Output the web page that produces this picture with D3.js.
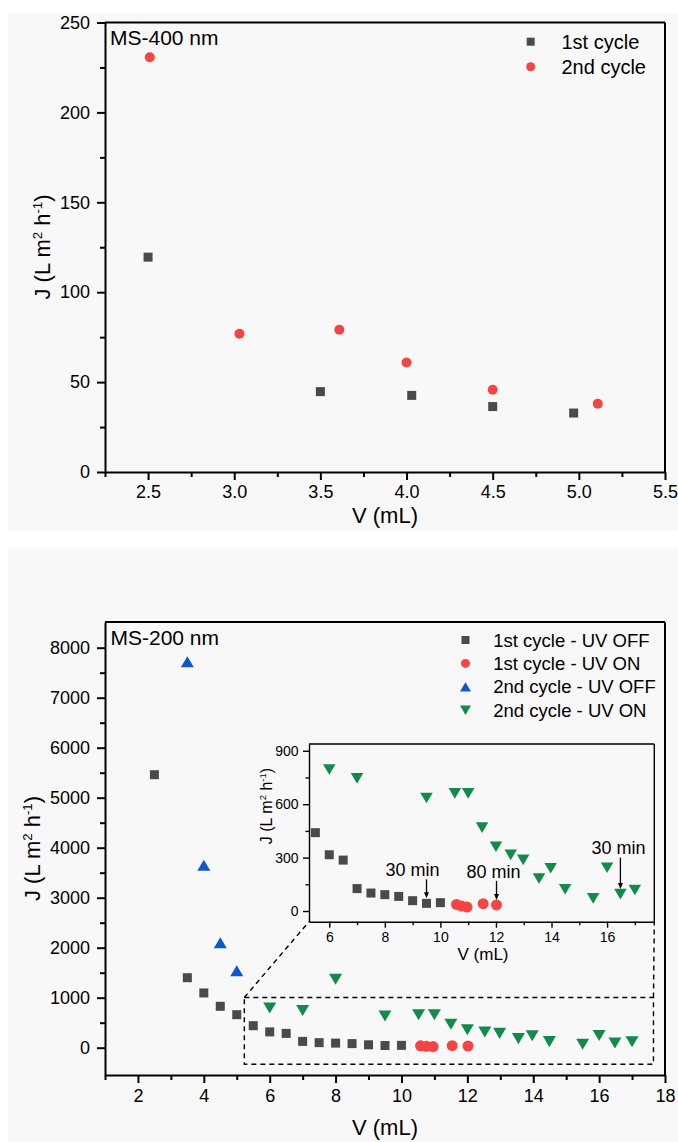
<!doctype html>
<html lang="en">
<head>
<meta charset="utf-8">
<style>
  body { margin: 0; background: #fff; }
  svg { display: block; font-family: "Liberation Sans", Arial, sans-serif; }
  .tick text { fill: #000; }
</style>
</head>
<body>
<script src="https://d3js.org/d3.v7.min.js"></script>
<script>
var width = 678, height = 1142;

// MS-400 nm
var v400c1 = [2.5, 3.5, 4.03, 4.5, 4.97];
var j400c1 = [119.5, 44.7, 42.6, 36.4, 32.8];
var v400c2 = [2.51, 3.03, 3.61, 4.0, 4.5, 5.11];
var j400c2 = [230.7, 76.9, 79.1, 60.9, 45.7, 38.0];

// MS-200 nm
var vOff1 = [2.5, 3.5, 4, 4.5, 5, 5.5, 6, 6.5, 7, 7.5, 8, 8.5, 9, 9.5, 10];
var jOff1 = [5460, 1400, 1095, 828, 660, 440, 316, 286, 126, 101, 92, 82, 58, 43, 47];
var vOn1 = [10.58, 10.76, 10.96, 11.54, 12.02];
var jOn1 = [37, 28, 22, 41, 34];
var vOff2 = [3.5, 4, 4.5, 5];
var jOff2 = [7720, 3650, 2100, 1540];
var vOn2 = [6, 7, 8, 9.5, 10.52, 11, 11.5, 12, 12.53, 12.98, 13.55, 13.97, 14.49, 15.5, 16, 16.48, 17];
var jOn2 = [795, 745, 1370, 635, 661, 661, 468, 361, 315, 287, 182, 240, 122, 71, 243, 95, 118];

var legend400 = ["1st cycle", "2nd cycle"];
var legend200 = ["1st cycle - UV OFF", "1st cycle - UV ON", "2nd cycle - UV OFF", "2nd cycle - UV ON"];

// inset annotations
var annV = [9.5, 12.02, 16.48];
var annJ = [43, 34, 95];
var annText = ["30 min", "80 min", "30 min"];

// zoomed region in main chart
var boxV = [5.23, 17.65];
var boxJ = [-330, 1005];

var cGray = "#4a4a4a", cRed = "#f54444", cBlue = "#0d56cc", cGreen = "#128a4a";

var svg = d3.select("body").append("svg")
  .attr("width", width)
  .attr("height", height);

svg.append("rect").attr("x", 8).attr("y", 14).attr("width", 670).attr("height", 516).attr("fill", "#f8f8f8");
svg.append("rect").attr("x", 8).attr("y", 548).attr("width", 670).attr("height", 594).attr("fill", "#f8f8f8");

function tri(cx, cy, w, h, down) {
  var p = d3.path();
  if (down) {
    p.moveTo(cx - w / 2, cy - h / 2); p.lineTo(cx + w / 2, cy - h / 2); p.lineTo(cx, cy + h / 2);
  } else {
    p.moveTo(cx - w / 2, cy + h / 2); p.lineTo(cx + w / 2, cy + h / 2); p.lineTo(cx, cy - h / 2);
  }
  p.closePath();
  return p.toString();
}

function marker(g, type, cx, cy, s, color) {
  if (type == "square") {
    g.append("rect").attr("x", cx - s / 2).attr("y", cy - s / 2)
      .attr("width", s).attr("height", s).attr("fill", color);
  } else if (type == "circle") {
    g.append("circle").attr("cx", cx).attr("cy", cy).attr("r", s / 2).attr("fill", color);
  } else {
    g.append("path").attr("d", tri(cx, cy, s, s * 0.85, type == "down")).attr("fill", color);
  }
}

function series(g, xs, ys, x, y, type, s, color, clip) {
  d3.zip(xs, ys).forEach(function(d) {
    if (clip) {
      var dx = x.domain(), dy = y.domain();
      if (d[0] < dx[0] || d[0] > dx[1] || d[1] < dy[0] || d[1] > dy[1]) return;
    }
    marker(g, type, x(d[0]), y(d[1]), s, color);
  });
}

function range(a, b, step) {
  var out = [];
  for (var v = a; v <= b + 1e-9; v += step) out.push(+v.toFixed(4));
  return out;
}

function axes(g, x, y, o) {
  var r = x.range(), ry = y.range();
  g.append("g").attr("transform", "translate(0," + ry[0] + ")")
    .call(d3.axisBottom(x).tickValues(o.xMinor).tickSize(o.minor).tickSizeOuter(0).tickFormat(""))
    .call(function(a) { a.select(".domain").remove(); a.selectAll("line").attr("stroke-width", o.sw); });
  g.append("g").attr("transform", "translate(" + r[0] + ",0)")
    .call(d3.axisLeft(y).tickValues(o.yMinor).tickSize(o.minor).tickSizeOuter(0).tickFormat(""))
    .call(function(a) { a.select(".domain").remove(); a.selectAll("line").attr("stroke-width", o.sw); });
  var xa = g.append("g").attr("transform", "translate(0," + ry[0] + ")")
    .call(d3.axisBottom(x).tickValues(o.xMajor).tickSize(o.major).tickSizeOuter(0)
      .tickPadding(o.xPad).tickFormat(o.xFmt));
  var ya = g.append("g").attr("transform", "translate(" + r[0] + ",0)")
    .call(d3.axisLeft(y).tickValues(o.yMajor).tickSize(o.major).tickSizeOuter(0)
      .tickPadding(o.yPad).tickFormat(o.yFmt));
  [xa, ya].forEach(function(a) {
    a.attr("font-family", null).attr("font-size", o.fs);
    a.select(".domain").attr("stroke-width", o.sw);
    a.selectAll("line").attr("stroke-width", o.sw);
  });
  // top and right frame
  g.append("line").attr("x1", r[0]).attr("x2", r[1]).attr("y1", ry[1]).attr("y2", ry[1])
    .attr("stroke", "#000").attr("stroke-width", o.sw);
  g.append("line").attr("x1", r[1]).attr("x2", r[1]).attr("y1", ry[1]).attr("y2", ry[0])
    .attr("stroke", "#000").attr("stroke-width", o.sw);
}

function jTitle(g, tx, ty, fs) {
  var t = g.append("text").attr("transform", "translate(" + tx + "," + ty + ") rotate(-90)")
    .attr("text-anchor", "middle").attr("font-size", fs);
  t.append("tspan").text("J (L m");
  t.append("tspan").attr("font-size", fs * 0.6).attr("dy", -fs * 0.38).text("2");
  t.append("tspan").attr("dy", fs * 0.38).text(" h");
  t.append("tspan").attr("font-size", fs * 0.6).attr("dy", -fs * 0.38).text("-1");
  t.append("tspan").attr("dy", fs * 0.38).text(")");
}

// ---------- top chart: MS-400 nm ----------
var g1 = svg.append("g");
var x1 = d3.scaleLinear().domain([2.25, 5.5]).range([105, 665]);
var y1 = d3.scaleLinear().domain([0, 250]).range([472, 22.5]);

axes(g1, x1, y1, {
  xMajor: range(2.5, 5.5, 0.5), xMinor: range(2.25, 5.25, 0.5),
  yMajor: range(0, 250, 50), yMinor: range(25, 225, 50),
  major: 8, minor: 5, sw: 2, fs: 18, xPad: 5.5, yPad: 7,
  xFmt: d3.format(".1f"), yFmt: d3.format("d")
});

series(g1, v400c1, j400c1, x1, y1, "square", 9, cGray);
series(g1, v400c2, j400c2, x1, y1, "circle", 10, cRed);

g1.append("text").attr("x", 110).attr("y", 44.5).attr("font-size", 21).text("MS-400 nm");
jTitle(g1, 50, 247, 22);
g1.append("text").attr("x", 385).attr("y", 523).attr("text-anchor", "middle").attr("font-size", 22).text("V (mL)");

var lt = ["square", "circle"], lc = [cGray, cRed];
legend400.forEach(function(name, i) {
  var yy = 41.7 + i * 25;
  marker(g1, lt[i], 530.7, yy, i == 0 ? 8 : 9, lc[i]);
  g1.append("text").attr("x", 561.5).attr("y", yy).attr("dy", "0.36em").attr("font-size", 20).text(name);
});

// ---------- bottom chart: MS-200 nm ----------
var g2 = svg.append("g");
var x2 = d3.scaleLinear().domain([1, 18]).range([105, 665]);
var y2 = d3.scaleLinear().domain([-546, 8514]).range([1075, 622]);

axes(g2, x2, y2, {
  xMajor: range(2, 18, 2), xMinor: range(1, 17, 2),
  yMajor: range(0, 8000, 1000), yMinor: range(500, 8000, 1000),
  major: 8, minor: 5, sw: 2, fs: 18, xPad: 6.5, yPad: 7,
  xFmt: d3.format("d"), yFmt: d3.format("d")
});

series(g2, vOff1, jOff1, x2, y2, "square", 9, cGray);
series(g2, vOn1, jOn1, x2, y2, "circle", 11, cRed);
series(g2, vOff2, jOff2, x2, y2, "up", 13, cBlue);
series(g2, vOn2, jOn2, x2, y2, "down", 13, cGreen);

g2.append("text").attr("x", 110.5).attr("y", 645).attr("font-size", 21).text("MS-200 nm");
jTitle(g2, 40, 848.5, 22);
g2.append("text").attr("x", 385).attr("y", 1135).attr("text-anchor", "middle").attr("font-size", 22).text("V (mL)");

var lt2 = ["square", "circle", "up", "down"], lc2 = [cGray, cRed, cBlue, cGreen], ls2 = [8, 9, 11, 11];
legend200.forEach(function(name, i) {
  var yy = 640 + i * 23.4;
  marker(g2, lt2[i], 465.5, yy, ls2[i], lc2[i]);
  g2.append("text").attr("x", 493.3).attr("y", yy).attr("dy", "0.36em").attr("font-size", 18.5).text(name);
});

// inset scales
var xi = d3.scaleLinear().domain([5.27, 17.7]).range([309, 654.3]);
var yi = d3.scaleLinear().domain([-60, 938]).range([921.7, 744]);

// dashed zoom box and connectors
var dash = "5,4";
g2.append("rect")
  .attr("x", x2(boxV[0])).attr("y", y2(boxJ[1]))
  .attr("width", x2(boxV[1]) - x2(boxV[0])).attr("height", y2(boxJ[0]) - y2(boxJ[1]))
  .attr("fill", "none").attr("stroke", "#000").attr("stroke-width", 1.4).attr("stroke-dasharray", dash);
g2.append("line")
  .attr("x1", x2(boxV[0])).attr("y1", y2(boxJ[1])).attr("x2", xi.range()[0]).attr("y2", yi.range()[0])
  .attr("stroke", "#000").attr("stroke-width", 1.4).attr("stroke-dasharray", dash);
g2.append("line")
  .attr("x1", x2(boxV[1])).attr("y1", y2(boxJ[1])).attr("x2", xi.range()[1]).attr("y2", yi.range()[0])
  .attr("stroke", "#000").attr("stroke-width", 1.4).attr("stroke-dasharray", dash);

// ---------- inset ----------
var gi = svg.append("g");
gi.append("rect").attr("x", 309).attr("y", 744).attr("width", 345.3).attr("height", 177.7).attr("fill", "#f8f8f8");

axes(gi, xi, yi, {
  xMajor: range(6, 16, 2), xMinor: range(7, 17, 2),
  yMajor: range(0, 900, 300), yMinor: range(150, 750, 300),
  major: 6, minor: 3.5, sw: 1.4, fs: 14, xPad: 4, yPad: 4.5,
  xFmt: d3.format("d"), yFmt: d3.format("d")
});

series(gi, vOff1, jOff1, xi, yi, "square", 9, cGray, true);
series(gi, vOn1, jOn1, xi, yi, "circle", 11, cRed, true);
series(gi, vOff2, jOff2, xi, yi, "up", 12.5, cBlue, true);
series(gi, vOn2, jOn2, xi, yi, "down", 12.5, cGreen, true);

jTitle(gi, 272, 806, 16);
gi.append("text").attr("x", 483).attr("y", 960).attr("text-anchor", "middle").attr("font-size", 17).text("V (mL)");

// arrows
var annLen = [19, 19, 31.5], annDx = [-14, -3, -2];
annV.forEach(function(v, i) {
  var ax = xi(v), tip = yi(annJ[i]) - 5, top = tip - annLen[i];
  gi.append("line").attr("x1", ax).attr("x2", ax).attr("y1", top).attr("y2", tip - 5)
    .attr("stroke", "#000").attr("stroke-width", 1.3);
  gi.append("path").attr("d", tri(ax, tip - 3, 5, 6, true)).attr("fill", "#000");
  gi.append("text").attr("x", ax + annDx[i]).attr("y", top - 3.3).attr("text-anchor", "middle")
    .attr("font-size", 18).text(annText[i]);
});
</script>
</body>
</html>
